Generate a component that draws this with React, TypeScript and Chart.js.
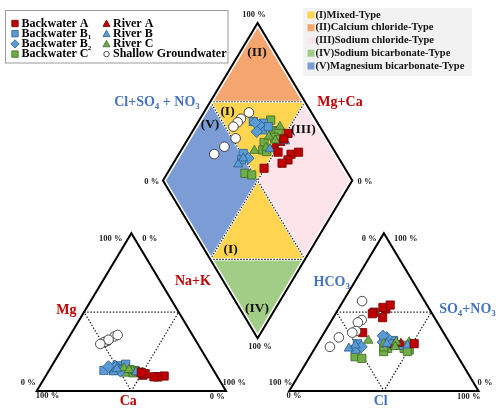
import React, { useEffect, useRef } from 'react';
import { Chart, registerables } from 'chart.js';
Chart.register(...registerables);

// gap between the two triangles, in units of a triangle side (=100)
const GAP = 33.4;

// ---- sample data (percent of meq) ----
// Shallow groundwater
const gwMg = [34.6, 32, 31.5, 31, 35.5, 32.5, 29.8];
const gwNaK = [23.8, 21.6, 21, 20.1, 25, 21.7, 18.7];
const gwCl = [10, 15.8, 14.5, 16.3, 14.8, 9.2, 7.5];
const gwSO4 = [57, 45, 43.5, 38, 37, 34, 28];

// Backwater A
const bwAMg = [10, 11, 11, 9, 9.5, 9, 9, 11.5];
const bwANaK = [51.1, 50.7, 51.8, 59.3, 62.6, 59.5, 57.4, 49.5];
const bwACl = [51, 25.1, 19.8, 23, 26.1, 26.1, 19.4, 20.3];
const bwASO4 = [30, 52, 50, 53, 54.5, 46.5, 49, 37];

// Backwater B1
const bwB1Mg = [13, 16, 14, 17, 13.5, 13];
const bwB1NaK = [29, 34.8, 36.6, 38.5, 33.8, 35];
const bwB1Cl = [33.4, 39.2, 38.8, 43.7, 21, 21.7];
const bwB1SO4 = [33, 32, 30, 29, 30, 26.5];

// Backwater B2
const bwB2Mg = [16, 15, 12.5, 15.5];
const bwB2NaK = [33.3, 34, 38, 30.2];
const bwB2Cl = [34.5, 34, 24.2, 32];
const bwB2SO4 = [34, 31, 28, 35];

// Backwater C
const bwCMg = [14, 13, 12.5, 13, 12, 13.5, 13, 12.5, 12, 11.5];
const bwCNaK = [37.7, 42.5, 45.4, 45, 48.7, 41.3, 43, 45.6, 41, 45.1];
const bwCCl = [47.1, 47.2, 50.4, 43.5, 49.9, 38.5, 37.4, 36, 23.9, 28];
const bwCSO4 = [29, 27, 26, 29, 25, 27, 25, 28, 21.7, 20.7];

// River A
const rAMg = [11.5, 12];
const rANaK = [50, 48];
const rACl = [44, 41];
const rASO4 = [30, 29];

// River B
const rBMg = [12, 10, 12, 14];
const rBNaK = [34.6, 52, 46.5, 35.3];
const rBCl = [18, 48, 36.5, 20.5];
const rBSO4 = [27, 29, 30, 29];

// River C
const rCMg = [14.5, 13, 13, 12, 13.5];
const rCNaK = [38.8, 44.7, 44, 46.5, 42];
const rCCl = [25.8, 47.9, 35, 41, 42];
const rCSO4 = [32, 31, 30, 31, 28];

// legend / label text
const legendLeft = [
  { name: 'Backwater A', sub: '' },
  { name: 'Backwater B', sub: '1' },
  { name: 'Backwater B', sub: '2' },
  { name: 'Backwater C', sub: '' },
];
const legendLeft2 = ['River A', 'River B', 'River C', 'Shallow Groundwater'];
const typeNames = [
  '(I)Mixed-Type',
  '(II)Calcium chloride-Type',
  '(III)Sodium chloride-Type',
  '(IV)Sodium bicarbonate-Type',
  '(V)Magnesium bicarbonate-Type',
];
const typeColors = ['#ffd44f', '#f4a66e', '#fde3ea', '#a2cd86', '#7b9cd5'];

// ---- Piper transforms ----
const cat = (mg: number, nak: number) => ({ x: nak + 0.5 * mg, y: mg });
const ani = (cl: number, so4: number) => ({ x: 100 + GAP + cl + 0.5 * so4, y: so4 });
const dia = (a: number, b: number) => ({ x: 0.5 * (100 + GAP + a + b), y: 100 + GAP + b - a });

function piperPoints(mg: number[], nak: number[], cl: number[], so4: number[]) {
  const pts: { x: number; y: number }[] = [];
  mg.forEach((m, i) => {
    pts.push(cat(m, nak[i]));
    pts.push(ani(cl[i], so4[i]));
    pts.push(dia(nak[i], cl[i] + so4[i]));
  });
  return pts;
}

const RED = '#c00000', RED_B = '#6e0000';
const BLUE = '#5b9bd5', BLUE_B = '#2c5d8c';
const GREEN = '#70ad47', GREEN_B = '#3e6a24';
const FONT = '"Liberation Serif", "Times New Roman", serif';

const XMIN = -19.39, XMAX = 244.74, YMIN = -12.68, YMAX = 247.9;

function rich(ctx: CanvasRenderingContext2D, parts: [string, boolean][], cx: number, cy: number, size: number, color: string, align = 'center') {
  ctx.save();
  const main = `bold ${size}px ${FONT}`;
  const sub = `bold ${Math.round(size * 0.62)}px ${FONT}`;
  let w = 0;
  for (const [t, s] of parts) { ctx.font = s ? sub : main; w += ctx.measureText(t).width; }
  let xx = align === 'center' ? cx - w / 2 : align === 'left' ? cx : cx - w;
  ctx.fillStyle = color;
  ctx.textBaseline = 'middle';
  ctx.textAlign = 'left';
  for (const [t, s] of parts) {
    ctx.font = s ? sub : main;
    ctx.fillText(t, xx, s ? cy + size * 0.32 : cy);
    xx += ctx.measureText(t).width;
  }
  ctx.restore();
}

function marker(ctx: CanvasRenderingContext2D, style: string, x: number, y: number, r: number, fill: string, stroke: string) {
  ctx.save();
  ctx.fillStyle = fill; ctx.strokeStyle = stroke; ctx.lineWidth = 0.8;
  ctx.beginPath();
  if (style === 'rect') ctx.rect(x - r, y - r, 2 * r, 2 * r);
  else if (style === 'rectRot') { ctx.moveTo(x, y - r * 1.3); ctx.lineTo(x + r * 1.3, y); ctx.lineTo(x, y + r * 1.3); ctx.lineTo(x - r * 1.3, y); ctx.closePath(); }
  else if (style === 'triangle') { ctx.moveTo(x, y - r * 1.1); ctx.lineTo(x + r * 1.1, y + r * 0.9); ctx.lineTo(x - r * 1.1, y + r * 0.9); ctx.closePath(); }
  else ctx.arc(x, y, r * 0.85, 0, Math.PI * 2);
  ctx.fill(); ctx.stroke();
  ctx.restore();
}

const piperPlugin = {
  id: 'piperFrame',
  beforeDatasetsDraw(chart: any) {
    const { ctx } = chart;
    const sx = chart.scales.x, sy = chart.scales.y;
    const P = (p: { x: number; y: number }) => [sx.getPixelForValue(p.x), sy.getPixelForValue(p.y)];
    const poly = (pts: { x: number; y: number }[], close = true) => {
      ctx.beginPath();
      pts.forEach((p, i) => { const [px, py] = P(p); i ? ctx.lineTo(px, py) : ctx.moveTo(px, py); });
      if (close) ctx.closePath();
    };
    ctx.save();
    // diamond regions (percent of Na+K, percent of Cl+SO4)
    const regions: [number, number][][] = [
      [[0, 50], [50, 100], [50, 50]],               // I upper
      [[50, 50], [50, 0], [100, 50]],               // I lower
      [[0, 100], [0, 50], [50, 100]],               // II
      [[50, 50], [50, 100], [100, 100], [100, 50]], // III
      [[50, 0], [100, 0], [100, 50]],               // IV
      [[0, 0], [0, 50], [50, 50], [50, 0]],         // V
    ];
    const rc = [typeColors[0], typeColors[0], typeColors[1], typeColors[2], typeColors[3], typeColors[4]];
    regions.forEach((r, i) => {
      poly(r.map(([a, b]) => dia(a, b)));
      ctx.fillStyle = rc[i];
      ctx.fill();
    });
    // dotted separators
    const seps: [number, number][][] = [
      [[50, 0], [50, 100]],
      [[0, 50], [100, 50]],
      [[0, 50], [50, 100]],
      [[50, 0], [100, 50]],
    ];
    seps.forEach((s) => {
      poly(s.map(([a, b]) => dia(a, b)), false);
      ctx.setLineDash([]); ctx.strokeStyle = '#ffffff'; ctx.lineWidth = 2.2; ctx.stroke();
      ctx.setLineDash([1.4, 1.6]); ctx.strokeStyle = '#111'; ctx.lineWidth = 1.2; ctx.stroke();
    });
    ctx.setLineDash([]);
    const diamond = [dia(0, 0), dia(0, 100), dia(100, 100), dia(100, 0)];
    poly(diamond);
    ctx.strokeStyle = '#ffffff'; ctx.lineWidth = 5; ctx.lineJoin = 'miter'; ctx.stroke();
    ctx.strokeStyle = '#000'; ctx.lineWidth = 2; ctx.stroke();

    // triangles
    const triC = [{ x: 0, y: 0 }, { x: 100, y: 0 }, { x: 50, y: 100 }];
    const triA = [{ x: 100 + GAP, y: 0 }, { x: 200 + GAP, y: 0 }, { x: 150 + GAP, y: 100 }];
    [triC, triA].forEach((t) => { poly(t); ctx.strokeStyle = '#000'; ctx.lineWidth = 2; ctx.stroke(); });
    const inC = [{ x: 25, y: 50 }, { x: 75, y: 50 }, { x: 50, y: 0 }];
    const inA = [{ x: 125 + GAP, y: 50 }, { x: 175 + GAP, y: 50 }, { x: 150 + GAP, y: 0 }];
    [inC, inA].forEach((t) => {
      poly(t); ctx.setLineDash([1.4, 1.8]); ctx.strokeStyle = '#111'; ctx.lineWidth = 1.2; ctx.stroke();
    });
    ctx.restore();
  },
  afterDatasetsDraw(chart: any) {
    const { ctx } = chart;
    ctx.save();
    const pct = (t: string, x: number, y: number) => rich(ctx, [[t, false]], x, y, 8.5, '#222');
    // % labels
    pct('100 %', 110.8, 239); pct('0 %', 149.7, 239);
    pct('0 %', 28.3, 382.7); pct('100 %', 47.5, 396);
    pct('100 %', 234.2, 382.7); pct('0 %', 217.3, 396.7);
    pct('0 %', 369.3, 239); pct('100 %', 405.8, 239);
    pct('100 %', 280.5, 382.7); pct('0 %', 294, 396);
    pct('0 %', 485, 382.7); pct('100 %', 468.7, 396.7);
    pct('100 %', 254, 15); pct('0 %', 151.7, 182); pct('0 %', 365, 182); pct('100 %', 260, 347);
    // axis names
    const BLUE_T = '#4472c4';
    rich(ctx, [['Mg', false]], 66.3, 310, 14, RED);
    rich(ctx, [['Na+K', false]], 193, 281.7, 14, RED);
    rich(ctx, [['Ca', false]], 128.3, 401, 14, RED);
    rich(ctx, [['HCO', false], ['3', true]], 331.7, 282, 14, BLUE_T);
    rich(ctx, [['SO', false], ['4', true], ['+NO', false], ['3', true]], 467.5, 309, 14, BLUE_T);
    rich(ctx, [['Cl', false]], 380.7, 401, 14, BLUE_T);
    rich(ctx, [['Cl+SO', false], ['4', true], [' + NO', false], ['3', true]], 157, 102, 14, BLUE_T);
    rich(ctx, [['Mg+Ca', false]], 340, 102, 14, RED);
    // region labels
    const rl = (t: string, x: number, y: number) => rich(ctx, [[t, false]], x, y, 13.5, '#111');
    rl('(II)', 257, 53); rl('(I)', 227.5, 111.7); rl('(V)', 210, 125); rl('(III)', 303.3, 130);
    rl('(I)', 230.7, 250); rl('(IV)', 257, 309);

    // left legend
    ctx.fillStyle = '#fff'; ctx.fillRect(5, 10, 223, 53);
    ctx.strokeStyle = '#9a9a9a'; ctx.lineWidth = 1; ctx.strokeRect(5.5, 10.5, 222.5, 52.5);
    const ls1: [string, string, string][] = [['rect', RED, RED_B], ['rect', BLUE, BLUE_B], ['rectRot', BLUE, BLUE_B], ['rect', GREEN, GREEN_B]];
    const ls2: [string, string, string][] = [['triangle', RED, RED_B], ['triangle', BLUE, BLUE_B], ['triangle', GREEN, GREEN_B], ['circle', '#fff', '#222']];
    legendLeft.forEach((l, i) => {
      const yy = 23.5 + i * 10.2;
      marker(ctx, ls1[i][0], 15, yy, 3.2, ls1[i][1], ls1[i][2]);
      const parts: [string, boolean][] = [[l.name, false]];
      if (l.sub) parts.push([l.sub, true]);
      rich(ctx, parts, 21.5, yy, 12, '#000', 'left');
    });
    legendLeft2.forEach((l, i) => {
      const yy = 23.5 + i * 10.2;
      marker(ctx, ls2[i][0], 106.5, yy, 3.2, ls2[i][1], ls2[i][2]);
      rich(ctx, [[l, false]], 113, yy, 12, '#000', 'left');
    });

    // right legend
    ctx.fillStyle = '#f2f2f2'; ctx.fillRect(303, 8, 169, 68);
    typeNames.forEach((t, i) => {
      const yy = 15 + i * 12.75;
      ctx.fillStyle = typeColors[i];
      ctx.fillRect(307.5, yy - 3.5, 7, 7);
      rich(ctx, [[t, false]], 315.5, yy, 10.5, '#111', 'left');
    });
    ctx.restore();
  },
};

export default function App() {
  const ref = useRef<HTMLCanvasElement>(null);
  useEffect(() => {
    if (!ref.current) return;
    const ds = (label: string, data: any[], style: string, r: number, fill: string, border: string, order: number) => ({
      label, data, pointStyle: style, pointRadius: r, pointBackgroundColor: fill, pointBorderColor: border,
      pointBorderWidth: 0.8, showLine: false, clip: false, order,
      backgroundColor: fill, borderColor: border,
    });
    const chart = new Chart(ref.current, {
      type: 'scatter',
      data: {
        datasets: [
          ds('Shallow Groundwater', piperPoints(gwMg, gwNaK, gwCl, gwSO4), 'circle', 4.8, '#ffffff', '#222', 1),
          ds('Backwater A', piperPoints(bwAMg, bwANaK, bwACl, bwASO4), 'rect', 5.8, RED, RED_B, 2),
          ds('River B', piperPoints(rBMg, rBNaK, rBCl, rBSO4), 'triangle', 5.4, BLUE, BLUE_B, 3),
          ds('River C', piperPoints(rCMg, rCNaK, rCCl, rCSO4), 'triangle', 5.4, GREEN, GREEN_B, 4),
          ds('River A', piperPoints(rAMg, rANaK, rACl, rASO4), 'triangle', 5.4, RED, RED_B, 5),
          ds('Backwater B2', piperPoints(bwB2Mg, bwB2NaK, bwB2Cl, bwB2SO4), 'rectRot', 5.8, BLUE, BLUE_B, 6),
          ds('Backwater B1', piperPoints(bwB1Mg, bwB1NaK, bwB1Cl, bwB1SO4), 'rect', 5.8, BLUE, BLUE_B, 7),
          ds('Backwater C', piperPoints(bwCMg, bwCNaK, bwCCl, bwCSO4), 'rect', 5.8, GREEN, GREEN_B, 8),
        ],
      },
      options: {
        animation: false,
        responsive: false,
        devicePixelRatio: 1,
        events: [],
        layout: { padding: 0, autoPadding: false },
        plugins: { legend: { display: false }, tooltip: { enabled: false } },
        scales: {
          x: { type: 'linear', display: false, min: XMIN, max: XMAX },
          y: { type: 'linear', display: false, min: YMIN, max: YMAX },
        },
      } as any,
      plugins: [piperPlugin as any],
    });
    return () => chart.destroy();
  }, []);
  return (
    <div style={{ position: 'absolute', left: 0, top: 0, width: 500, height: 411, background: '#fff' }}>
      <canvas ref={ref} width={500} height={411} style={{ display: 'block' }} />
    </div>
  );
}
